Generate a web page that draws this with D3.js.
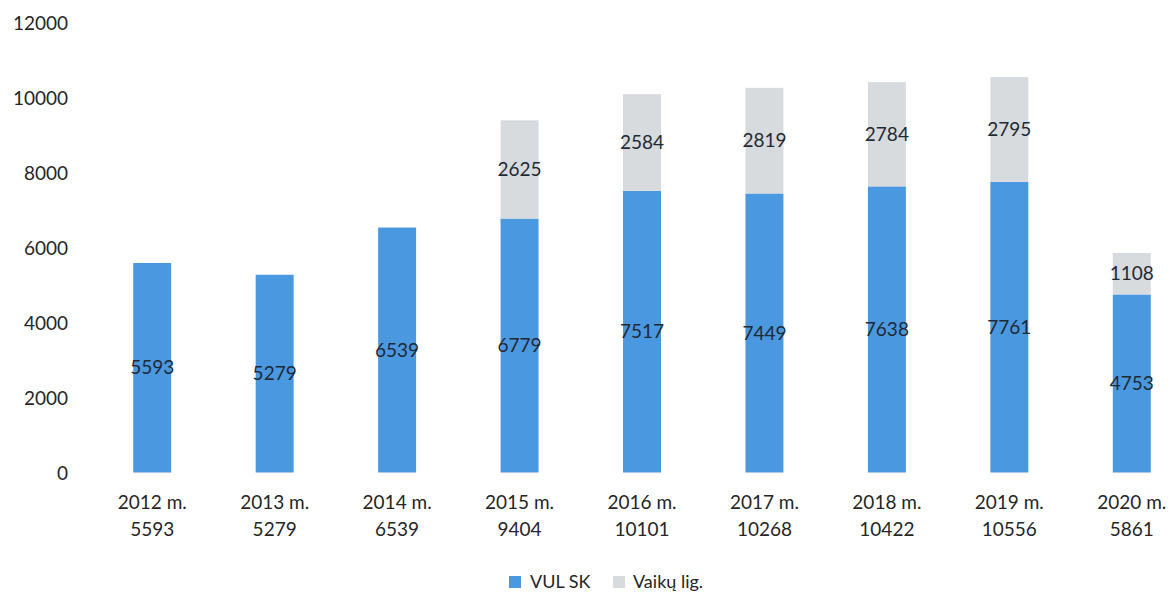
<!DOCTYPE html>
<html>
<head>
<meta charset="utf-8">
<script src="https://cdn.jsdelivr.net/npm/d3@7/dist/d3.min.js"></script>
<style>
  html, body { margin: 0; padding: 0; background: #ffffff; }
  svg text { font-family: Lato, "Open Sans", sans-serif; fill: #262626; }
</style>
</head>
<body>
<svg id="chart" width="1171" height="593"></svg>
<script>
// Years and totals shown under each column
const years = ["2012 m.", "2013 m.", "2014 m.", "2015 m.", "2016 m.", "2017 m.", "2018 m.", "2019 m.", "2020 m."];
const totals = [5593, 5279, 6539, 9404, 10101, 10268, 10422, 10556, 5861];
// Stacked series
const vulSk = [5593, 5279, 6539, 6779, 7517, 7449, 7638, 7761, 4753];
const vaikuLig = [0, 0, 0, 2625, 2584, 2819, 2784, 2795, 1108];
const seriesNames = ["VUL SK", "Vaikų lig."];
const seriesColors = ["#4a98e0", "#d8dbde"];
const yTicks = [0, 2000, 4000, 6000, 8000, 10000, 12000];

const svg = d3.select("#chart");

const x = d3.scaleBand()
  .domain(years)
  .range([91, 1193])
  .paddingInner(0.69)
  .paddingOuter(0.345);

const y = d3.scaleLinear()
  .domain([0, 12000])
  .range([472.5, 23]);

// Y axis labels only (no line, no ticks)
const yAxis = d3.axisLeft(y).tickValues(yTicks).tickSize(0).tickPadding(0).tickFormat(d3.format("d"));
const yg = svg.append("g").attr("transform", "translate(68,0)").call(yAxis);
yg.select(".domain").remove();
yg.selectAll("text")
  .style("font-size", "19px")
  .style("font-family", "Lato, 'Open Sans', sans-serif")
  .attr("fill", "#262626")
  .attr("dy", "0.35em");

// Stack data
const rows = years.map((yr, i) => ({ year: yr, "VUL SK": vulSk[i], "Vaikų lig.": vaikuLig[i] }));
const stack = d3.stack().keys(seriesNames)(rows);

const layers = svg.append("g").selectAll("g.layer")
  .data(stack)
  .join("g")
  .attr("class", "layer")
  .attr("fill", (d, i) => seriesColors[i]);

layers.selectAll("rect")
  .data(d => d)
  .join("rect")
  .attr("x", d => x(d.data.year))
  .attr("width", x.bandwidth())
  .attr("y", d => y(d[1]))
  .attr("height", d => y(d[0]) - y(d[1]));

// Segment value labels, centered in each segment
layers.selectAll("text")
  .data(d => d.filter(s => s[1] - s[0] > 0))
  .join("text")
  .attr("x", d => x(d.data.year) + x.bandwidth() / 2)
  .attr("y", d => (y(d[0]) + y(d[1])) / 2)
  .attr("text-anchor", "middle")
  .attr("dy", "0.35em")
  .style("font-size", "19px")
  .style("fill", "#1f2a33")
  .text((d, i, nodes) => d[1] - d[0]);

// X axis labels: year and total on two lines
const xl = svg.append("g").selectAll("text")
  .data(years)
  .join("text")
  .attr("text-anchor", "middle")
  .attr("x", d => x(d) + x.bandwidth() / 2)
  .attr("y", 502)
  .style("font-size", "19px");
xl.append("tspan")
  .attr("x", d => x(d) + x.bandwidth() / 2)
  .attr("dy", "0.35em")
  .text(d => d);
xl.append("tspan")
  .attr("x", d => x(d) + x.bandwidth() / 2)
  .attr("dy", "27")
  .text((d, i) => totals[i]);

// Legend
const legendItems = [
  { name: seriesNames[0], color: seriesColors[0], sx: 509, tx: 530 },
  { name: seriesNames[1], color: seriesColors[1], sx: 613, tx: 633 }
];
const lg = svg.append("g").selectAll("g").data(legendItems).join("g");
lg.append("rect")
  .attr("x", d => d.sx)
  .attr("y", 576)
  .attr("width", 12)
  .attr("height", 12)
  .attr("fill", d => d.color);
lg.append("text")
  .attr("x", d => d.tx)
  .attr("y", 582)
  .attr("dy", "0.35em")
  .style("font-size", "18px")
  .text(d => d.name);
</script>
</body>
</html>
